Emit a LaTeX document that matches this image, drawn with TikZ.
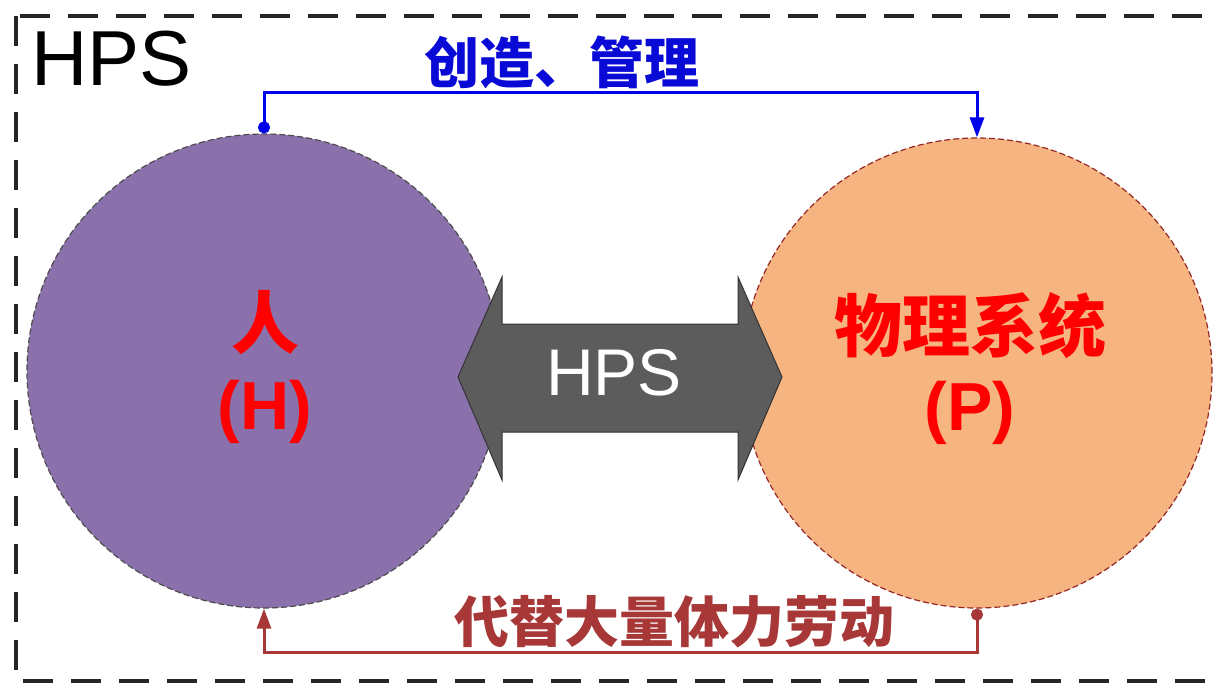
\documentclass[tikz,border=0pt]{standalone}
\usepackage{fontspec}
\setmainfont{Liberation Sans}
\newfontfamily\cjk{Noto Sans CJK SC}
\usetikzlibrary{arrows.meta}
\definecolor{hpurple}{RGB}{139,113,172}
\definecolor{porange}{RGB}{246,180,128}
\definecolor{toblue}{RGB}{10,10,215}
\definecolor{lineblue}{RGB}{0,0,235}
\definecolor{labred}{RGB}{168,55,55}
\definecolor{arrgray}{RGB}{92,92,92}
\definecolor{pedge}{RGB}{150,40,40}
\tikzset{
  outerbox/.style={draw=black!85, line width=4pt, dash pattern=on 30pt off 18pt},
  hcircle/.style={circle, inner sep=0pt, fill=hpurple, draw=black!70, line width=1.2pt, dash pattern=on 6pt off 3pt},
  pcircle/.style={circle, inner sep=0pt, fill=porange, draw=pedge, line width=1.2pt, dash pattern=on 6pt off 3pt},
  bluelink/.style={draw=lineblue, line width=3pt, {Circle[length=12pt]}-{Triangle[length=20pt,width=14pt]}},
  redlink/.style={draw=labred, line width=3pt, {Circle[length=12pt]}-{Triangle[length=20pt,width=14pt]}},
  cjklabel/.style={font=\cjk\bfseries\fontsize{55}{55}\selectfont, inner sep=0pt},
  circlename/.style={text=red, font=\cjk\bfseries\fontsize{68}{68}\selectfont, inner sep=0pt},
  circlesym/.style={text=red, font=\bfseries\fontsize{68}{68}\selectfont, inner sep=0pt},
  bigarrow/.style={fill=arrgray, draw=black!80, line width=1pt}
}
\begin{document}
\begin{tikzpicture}[x=1pt,y=-1pt]
\useasboundingbox (0,0) rectangle (1214,685);
\clip (0,0) rectangle (1214,685);
\fill[white] (0,0) rectangle (1214,685);
\draw[outerbox] (16,16) rectangle (1240,681);

\node[anchor=base west, inner sep=0pt, font=\fontsize{78}{78}\selectfont] (title) at (31,85) {HPS};

\node[hcircle, minimum size=474pt] (H) at (264,371) {};
\node[pcircle, minimum size=470pt] (P) at (977,373) {};

\draw[bigarrow] (458,377) -- (502,277) -- (502,324) -- (738,324) -- (738,277) -- (782,377)
  -- (738,480) -- (738,432) -- (502,432) -- (502,480) -- cycle;
\node[text=white, inner sep=0pt, font=\fontsize{66}{66}\selectfont] (hpsc) at (614,373) {HPS};

\node[circlename] (hname) at (265,323) {人};
\node[circlesym] (hsym) at (265,412) {(H)};
\node[circlename] (pname) at (970,326) {物理系统};
\node[circlesym] (psym) at (970,413) {(P)};

\draw[bluelink] (H.north) -- ++(0,-41) -| (P.north);
\draw[redlink] (P.south) -- ++(0,44) -| (H.south);

\node[cjklabel, text=toblue] (lab1) at (562,62) {创造、管理};
\node[cjklabel, text=labred] (lab2) at (674,622) {代替大量体力劳动};
\end{tikzpicture}
\end{document}
